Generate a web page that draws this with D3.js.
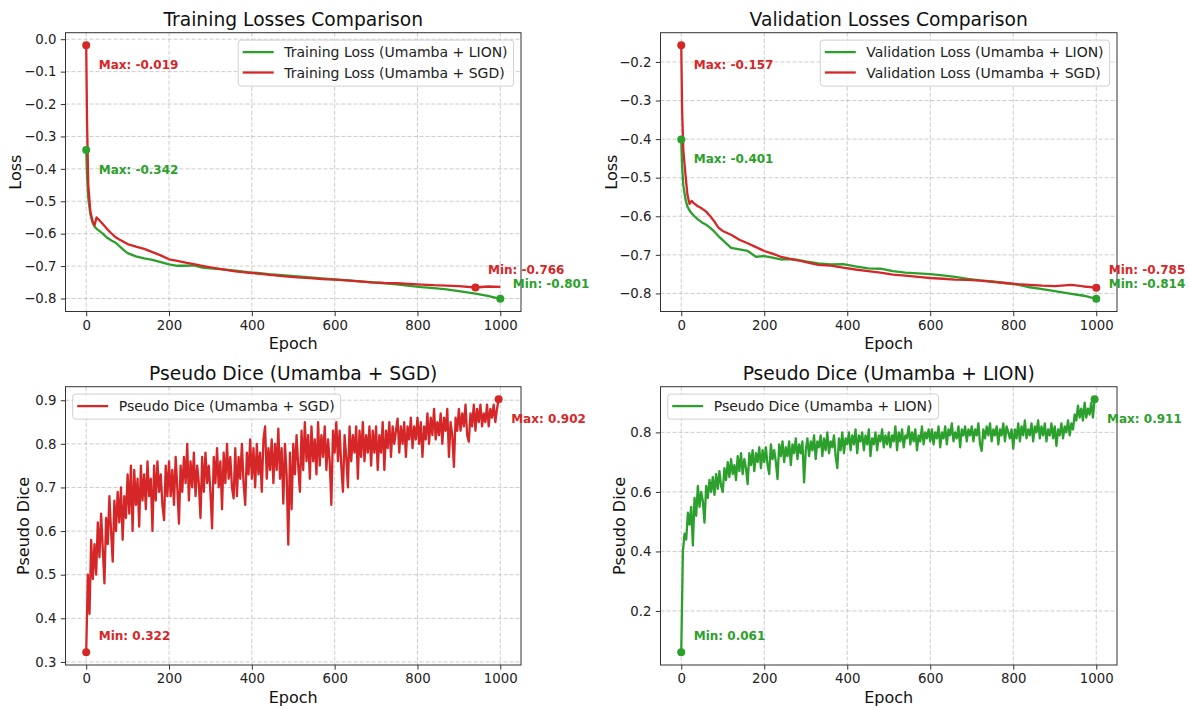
<!DOCTYPE html>
<html>
<head>
<meta charset="utf-8">
<script src="https://cdn.jsdelivr.net/npm/d3@7"></script>
<style>
body { margin: 0; background: #fff; }
svg { font-family: "DejaVu Sans", sans-serif; }
</style>
</head>
<body>
<div id="chart"></div>
<script>
const GREEN = '#2ca02c';
const RED = '#d62728';

const lossEpochs = [0, 2, 5, 10, 15, 20, 25, 30, 40, 50, 60, 70, 80, 90, 100,
    120, 140, 160, 180, 200, 220, 240, 260, 280, 300,
    330, 360, 390, 420, 450, 480, 510, 540, 570, 600, 630, 660, 690, 720, 750,
    780, 810, 840, 870, 900, 940, 970, 1000];

const trainLion = [-0.342, -0.42, -0.49, -0.54, -0.565, -0.578, -0.585, -0.590,
    -0.600, -0.612, -0.620, -0.627, -0.638, -0.650, -0.660,
    -0.670, -0.676, -0.681, -0.688, -0.695, -0.699, -0.699, -0.698, -0.705, -0.707,
    -0.710, -0.714, -0.719, -0.722, -0.726, -0.729, -0.732, -0.735, -0.738, -0.741,
    -0.744, -0.747, -0.750, -0.753, -0.756, -0.761, -0.765, -0.768, -0.772, -0.777,
    -0.785, -0.792, -0.801];
const trainSgd = [-0.019, -0.25, -0.45, -0.53, -0.560, -0.575, -0.550, -0.556,
    -0.570, -0.585, -0.598, -0.610, -0.618, -0.625, -0.632,
    -0.640, -0.647, -0.657, -0.667, -0.679, -0.684, -0.689, -0.694, -0.699, -0.704,
    -0.710, -0.716, -0.720, -0.724, -0.728, -0.732, -0.735, -0.737, -0.740, -0.742,
    -0.744, -0.747, -0.750, -0.752, -0.753, -0.755, -0.757, -0.759, -0.760, -0.762,
    -0.766, -0.763, -0.764];
const valLion = [-0.401, -0.47, -0.52, -0.555, -0.575, -0.585, -0.592, -0.598,
    -0.608, -0.616, -0.622, -0.630, -0.640, -0.652, -0.662,
    -0.682, -0.686, -0.690, -0.705, -0.703, -0.707, -0.712, -0.711, -0.713, -0.717,
    -0.722, -0.725, -0.724, -0.730, -0.735, -0.736, -0.742, -0.746, -0.748, -0.750,
    -0.753, -0.757, -0.762, -0.766, -0.769, -0.773, -0.777, -0.784, -0.789, -0.794,
    -0.801, -0.806, -0.814];
const valSgd = [-0.157, -0.32, -0.43, -0.49, -0.545, -0.568, -0.560, -0.566,
    -0.574, -0.580, -0.588, -0.600, -0.614, -0.630, -0.638,
    -0.648, -0.661, -0.670, -0.680, -0.690, -0.697, -0.705, -0.710, -0.714, -0.719,
    -0.726, -0.728, -0.733, -0.738, -0.742, -0.746, -0.751, -0.754, -0.757, -0.760,
    -0.762, -0.764, -0.765, -0.767, -0.770, -0.773, -0.776, -0.778, -0.780, -0.781,
    -0.778, -0.782, -0.785];

// pseudo dice, one reading every 4 epochs (0..996), one row per 100 epochs
const diceEpochs = d3.range(0, 1000, 4);
const diceSgd = [
    0.322, 0.50, 0.41, 0.58, 0.49, 0.57, 0.50, 0.62, 0.54, 0.64, 0.56, 0.48, 0.63, 0.57, 0.68, 0.60, 0.53, 0.67, 0.60, 0.69, 0.62, 0.70, 0.58, 0.68, 0.63,
    0.73, 0.64, 0.75, 0.60, 0.74, 0.66, 0.72, 0.61, 0.75, 0.67, 0.73, 0.65, 0.76, 0.68, 0.72, 0.60, 0.75, 0.67, 0.76, 0.69, 0.73, 0.66, 0.625, 0.75, 0.68,
    0.76, 0.68, 0.74, 0.66, 0.77, 0.70, 0.617, 0.75, 0.69, 0.77, 0.71, 0.80, 0.67, 0.76, 0.70, 0.78, 0.68, 0.75, 0.71, 0.63, 0.77, 0.69, 0.78, 0.71, 0.75,
    0.69, 0.606, 0.77, 0.71, 0.79, 0.70, 0.76, 0.65, 0.78, 0.71, 0.80, 0.72, 0.77, 0.70, 0.675, 0.79, 0.68, 0.77, 0.72, 0.80, 0.71, 0.66, 0.78, 0.73, 0.81,
    0.72, 0.79, 0.70, 0.80, 0.73, 0.78, 0.69, 0.81, 0.84, 0.72, 0.79, 0.74, 0.81, 0.71, 0.80, 0.74, 0.835, 0.72, 0.79, 0.663, 0.80, 0.73, 0.569, 0.78, 0.65,
    0.80, 0.73, 0.82, 0.75, 0.69, 0.83, 0.74, 0.85, 0.76, 0.82, 0.72, 0.84, 0.76, 0.81, 0.73, 0.85, 0.75, 0.82, 0.77, 0.84, 0.74, 0.81, 0.76, 0.66, 0.83,
    0.78, 0.85, 0.76, 0.83, 0.75, 0.69, 0.82, 0.77, 0.70, 0.84, 0.76, 0.82, 0.78, 0.84, 0.72, 0.83, 0.77, 0.85, 0.76, 0.82, 0.78, 0.84, 0.75, 0.83, 0.78,
    0.84, 0.74, 0.82, 0.78, 0.85, 0.74, 0.83, 0.79, 0.85, 0.77, 0.84, 0.80, 0.83, 0.858, 0.78, 0.84, 0.80, 0.85, 0.77, 0.84, 0.81, 0.86, 0.79, 0.84, 0.81,
    0.86, 0.80, 0.85, 0.77, 0.84, 0.81, 0.87, 0.80, 0.86, 0.82, 0.88, 0.81, 0.85, 0.82, 0.87, 0.80, 0.86, 0.83, 0.88, 0.77, 0.85, 0.82, 0.747, 0.86, 0.83,
    0.88, 0.83, 0.87, 0.84, 0.89, 0.82, 0.805, 0.87, 0.84, 0.89, 0.83, 0.88, 0.85, 0.89, 0.84, 0.87, 0.85, 0.89, 0.84, 0.88, 0.86, 0.89, 0.85, 0.88, 0.902
];
const diceLion = [
    0.061, 0.40, 0.46, 0.44, 0.53, 0.49, 0.55, 0.42, 0.58, 0.52, 0.62, 0.55, 0.60, 0.57, 0.497, 0.62, 0.58, 0.64, 0.60, 0.65, 0.59, 0.66, 0.61, 0.67, 0.62,
    0.60, 0.68, 0.64, 0.70, 0.65, 0.71, 0.66, 0.69, 0.64, 0.72, 0.67, 0.73, 0.66, 0.71, 0.68, 0.626, 0.73, 0.69, 0.74, 0.67, 0.73, 0.70, 0.75, 0.68, 0.74,
    0.70, 0.75, 0.69, 0.66, 0.76, 0.71, 0.74, 0.70, 0.643, 0.76, 0.72, 0.77, 0.70, 0.75, 0.72, 0.77, 0.69, 0.76, 0.73, 0.78, 0.71, 0.76, 0.73, 0.77, 0.632,
    0.74, 0.78, 0.72, 0.77, 0.74, 0.79, 0.71, 0.77, 0.75, 0.79, 0.72, 0.78, 0.74, 0.80, 0.73, 0.77, 0.75, 0.79, 0.72, 0.68, 0.78, 0.74, 0.80, 0.73, 0.78,
    0.76, 0.80, 0.74, 0.79, 0.76, 0.81, 0.73, 0.79, 0.77, 0.80, 0.74, 0.79, 0.76, 0.81, 0.72, 0.78, 0.76, 0.80, 0.74, 0.79, 0.77, 0.81, 0.75, 0.79, 0.76,
    0.80, 0.75, 0.79, 0.77, 0.82, 0.74, 0.80, 0.77, 0.81, 0.75, 0.79, 0.78, 0.82, 0.76, 0.80, 0.77, 0.81, 0.74, 0.79, 0.77, 0.82, 0.76, 0.80, 0.78, 0.81,
    0.77, 0.81, 0.76, 0.80, 0.78, 0.82, 0.75, 0.80, 0.78, 0.82, 0.76, 0.81, 0.79, 0.83, 0.77, 0.80, 0.78, 0.82, 0.75, 0.81, 0.79, 0.82, 0.77, 0.81, 0.79,
    0.82, 0.77, 0.81, 0.79, 0.83, 0.76, 0.738, 0.81, 0.78, 0.82, 0.79, 0.83, 0.77, 0.81, 0.79, 0.82, 0.76, 0.81, 0.79, 0.83, 0.77, 0.82, 0.80, 0.78, 0.81,
    0.745, 0.81, 0.78, 0.83, 0.77, 0.82, 0.79, 0.84, 0.78, 0.81, 0.79, 0.83, 0.77, 0.82, 0.80, 0.84, 0.78, 0.82, 0.79, 0.83, 0.77, 0.81, 0.79, 0.83, 0.78,
    0.82, 0.755, 0.81, 0.79, 0.83, 0.78, 0.82, 0.80, 0.84, 0.79, 0.83, 0.81, 0.86, 0.84, 0.89, 0.85, 0.88, 0.84, 0.90, 0.85, 0.88, 0.86, 0.90, 0.85, 0.911
];

const xTicks = [0, 200, 400, 600, 800, 1000];
const trainTicks = [0.0, -0.1, -0.2, -0.3, -0.4, -0.5, -0.6, -0.7, -0.8];
const valTicks = [-0.2, -0.3, -0.4, -0.5, -0.6, -0.7, -0.8];
const diceSgdTicks = [0.3, 0.4, 0.5, 0.6, 0.7, 0.8, 0.9];
const diceLionTicks = [0.2, 0.4, 0.6, 0.8];

const W = 1189, H = 709;
const svg = d3.select('#chart').append('svg')
    .attr('width', W)
    .attr('height', H);

const fmtTick = d => d3.format('.1f')(d).replace('-', '\u2212');

function drawPanel(cfg) {
    const b = cfg.box;
    const x = d3.scaleLinear().domain([-50, 1050]).range([b.left, b.right]);
    const all = cfg.series.flatMap(s => s.y);
    const lo = d3.min(all), hi = d3.max(all);
    const pad = (hi - lo) * 0.05;
    const y = d3.scaleLinear().domain([lo - pad, hi + pad]).range([b.bottom, b.top]);

    const g = svg.append('g');

    // grid
    g.append('g').selectAll('line').data(xTicks).enter().append('line')
        .attr('x1', d => x(d)).attr('x2', d => x(d))
        .attr('y1', b.top).attr('y2', b.bottom);
    g.append('g').selectAll('line').data(cfg.yTicks).enter().append('line')
        .attr('x1', b.left).attr('x2', b.right)
        .attr('y1', d => y(d)).attr('y2', d => y(d));
    g.selectAll('line')
        .attr('stroke', '#b0b0b0')
        .attr('stroke-opacity', 0.7)
        .attr('stroke-width', 0.9)
        .attr('stroke-dasharray', '4,2');

    // lines
    cfg.series.forEach(s => {
        const pts = s.x.map((e, i) => [e, s.y[i]]);
        g.append('path')
            .datum(pts)
            .attr('fill', 'none')
            .attr('stroke', s.color)
            .attr('stroke-width', s.width)
            .attr('stroke-linejoin', 'round')
            .attr('d', d3.line().x(d => x(d[0])).y(d => y(d[1])));
    });

    // axes
    const ax = g.append('g')
        .attr('transform', `translate(0,${b.bottom})`)
        .call(d3.axisBottom(x).tickValues(xTicks).tickFormat(d3.format('d')).tickSize(4.7).tickPadding(4.3));
    const ay = g.append('g')
        .attr('transform', `translate(${b.left},0)`)
        .call(d3.axisLeft(y).tickValues(cfg.yTicks).tickFormat(fmtTick).tickSize(4.7).tickPadding(4.3));
    [ax, ay].forEach(a => {
        a.select('.domain').remove();
        a.selectAll('.tick line').attr('stroke', '#333');
        a.selectAll('.tick text')
            .attr('fill', '#222')
            .style('font-family', '"DejaVu Sans", sans-serif')
            .style('font-size', '13.3px');
    });

    // spines
    g.append('rect')
        .attr('x', b.left).attr('y', b.top)
        .attr('width', b.right - b.left).attr('height', b.bottom - b.top)
        .attr('fill', 'none')
        .attr('stroke', '#333')
        .attr('stroke-width', 1);

    // max / min markers
    const notes = [];
    cfg.series.forEach(s => {
        const iMax = d3.maxIndex(s.y), iMin = d3.minIndex(s.y);
        [[iMax, 'Max', 23.5], [iMin, 'Min', -12.5]].forEach(([i, lbl, dy]) => {
            const px = x(s.x[i]), py = y(s.y[i]);
            g.append('circle')
                .attr('cx', px).attr('cy', py).attr('r', 4)
                .attr('fill', s.color);
            notes.push({ x: px + 12.5, y: py + dy, color: s.color, text: `${lbl}: ${s.y[i].toFixed(3)}` });
        });
    });
    // the two min labels sit close together at the right edge: keep them apart
    notes.sort((a, b2) => a.y - b2.y);
    for (let i = 1; i < notes.length; i++) {
        const gap = notes[i].y - notes[i - 1].y;
        if (Math.abs(notes[i].x - notes[i - 1].x) < 40 && gap < 14) {
            notes[i - 1].y -= (14 - gap) / 2;
            notes[i].y += (14 - gap) / 2;
        }
    }
    notes.forEach(n => {
        g.append('text')
            .attr('x', n.x).attr('y', n.y)
            .attr('fill', n.color)
            .style('font-size', '12px')
            .style('font-weight', 'bold')
            .text(n.text);
    });

    // legend
    const lg = g.append('g');
    const items = cfg.series.map((s, i) => {
        const t = lg.append('text')
            .style('font-size', '14px')
            .attr('fill', '#222')
            .text(s.name);
        return { s, t, w: t.node().getComputedTextLength() };
    });
    const tw = d3.max(items, d => d.w);
    const bw = tw + 52, bh = items.length === 2 ? 46 : 25;
    const bx = cfg.legend === 'right' ? b.right - 7.4 - bw : b.left + 7.2;
    const by = b.top + 7.4;
    lg.insert('rect', 'text')
        .attr('x', bx).attr('y', by)
        .attr('width', bw).attr('height', bh)
        .attr('rx', 3)
        .attr('fill', '#fff').attr('fill-opacity', 0.8)
        .attr('stroke', '#d0d0d0');
    items.forEach((d, i) => {
        const ly = by + 12 + i * 20.4;
        lg.append('line')
            .attr('x1', bx + 4.5).attr('x2', bx + 35.5)
            .attr('y1', ly).attr('y2', ly)
            .attr('stroke', d.s.color).attr('stroke-width', 2.3);
        d.t.attr('x', bx + 46).attr('y', ly + 5);
    });

    // titles and labels
    const cx = (b.left + b.right) / 2;
    g.append('text')
        .attr('x', cx).attr('y', b.top - 6.5)
        .attr('text-anchor', 'middle')
        .attr('fill', '#111')
        .style('font-size', '18.7px')
        .text(cfg.title);
    g.append('text')
        .attr('x', cx).attr('y', b.bottom + 37.5)
        .attr('text-anchor', 'middle')
        .attr('fill', '#111')
        .style('font-size', '16px')
        .text('Epoch');
    g.append('text')
        .attr('transform', `translate(${b.left + cfg.ylabelDx},${(b.top + b.bottom) / 2}) rotate(-90)`)
        .attr('text-anchor', 'middle')
        .attr('fill', '#111')
        .style('font-size', '16px')
        .text(cfg.ylabel);
}

drawPanel({
    box: { left: 65.5, right: 521, top: 32.7, bottom: 311.5 },
    title: 'Training Losses Comparison', ylabel: 'Loss', ylabelDx: -44.5,
    yTicks: trainTicks, legend: 'right',
    series: [
        { name: 'Training Loss (Umamba + LION)', color: GREEN, x: lossEpochs, y: trainLion, width: 2.3 },
        { name: 'Training Loss (Umamba + SGD)', color: RED, x: lossEpochs, y: trainSgd, width: 2.3 }
    ]
});
drawPanel({
    box: { left: 660.5, right: 1117, top: 32.7, bottom: 311.5 },
    title: 'Validation Losses Comparison', ylabel: 'Loss', ylabelDx: -43.5,
    yTicks: valTicks, legend: 'right',
    series: [
        { name: 'Validation Loss (Umamba + LION)', color: GREEN, x: lossEpochs, y: valLion, width: 2.3 },
        { name: 'Validation Loss (Umamba + SGD)', color: RED, x: lossEpochs, y: valSgd, width: 2.3 }
    ]
});
drawPanel({
    box: { left: 65.5, right: 521, top: 386.7, bottom: 665 },
    title: 'Pseudo Dice (Umamba + SGD)', ylabel: 'Pseudo Dice', ylabelDx: -37,
    yTicks: diceSgdTicks, legend: 'left',
    series: [
        { name: 'Pseudo Dice (Umamba + SGD)', color: RED, x: diceEpochs, y: diceSgd, width: 2.3 }
    ]
});
drawPanel({
    box: { left: 660.5, right: 1117, top: 386.7, bottom: 665 },
    title: 'Pseudo Dice (Umamba + LION)', ylabel: 'Pseudo Dice', ylabelDx: -36,
    yTicks: diceLionTicks, legend: 'left',
    series: [
        { name: 'Pseudo Dice (Umamba + LION)', color: GREEN, x: diceEpochs, y: diceLion, width: 2.3 }
    ]
});
</script>
</body>
</html>
